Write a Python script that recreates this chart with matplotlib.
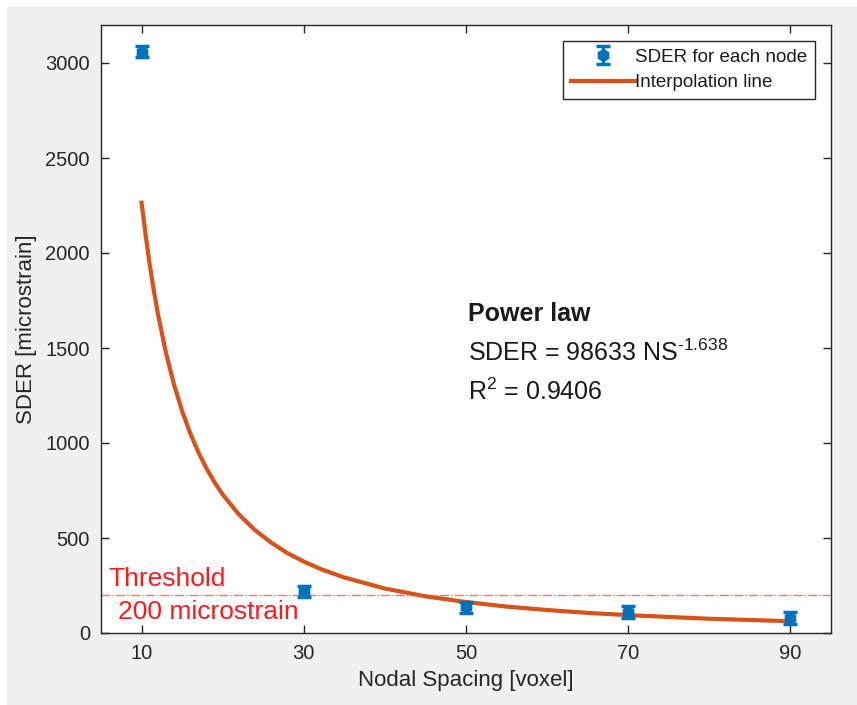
import matplotlib
matplotlib.use("Agg")
import matplotlib.pyplot as plt
from matplotlib.patches import Rectangle

plt.rcParams['font.family'] = ['Liberation Sans', 'DejaVu Sans']

# Measured SDER per node
nodal_spacing = [10, 30, 50, 70, 90]
sder = [3060, 220, 135, 110, 80]
sder_err = [30, 30, 30, 30, 30]

# Interpolation (power-law fit) line
fit_x = [10, 10.5, 11, 11.5, 12, 13, 14, 15, 16, 17, 18, 19, 20, 22, 24, 26, 28, 30, 32,
         35, 40, 45, 50, 55, 60, 65, 70, 80, 90]
fit_y = [2265, 2095, 1940, 1805, 1683, 1476, 1308, 1168, 1051, 952, 866, 793, 729, 624,
         541, 475, 420, 376, 338, 292, 234, 193, 163, 139, 121, 106, 94, 75, 62]

threshold = 200
x_ticks = [10, 30, 50, 70, 90]
y_ticks = [0, 500, 1000, 1500, 2000, 2500, 3000]

W, H = 857, 705
fig = plt.figure(figsize=(W / 100, H / 100), dpi=100)
fig.patch.set_facecolor('#f0f0f0')
# white screenshot margins (top and left)
fig.patches.append(Rectangle((0, 1 - 7 / H), 1, 7 / H, transform=fig.transFigure,
                             facecolor='white', edgecolor='none', zorder=0))
fig.patches.append(Rectangle((0, 0), 7 / W, 1, transform=fig.transFigure,
                             facecolor='white', edgecolor='none', zorder=0))

ax = fig.add_axes([101 / W, (H - 633) / H, 730 / W, 608 / H])
ax.set_facecolor('white')

dark = '#262626'
blue = '#0072BD'
orange = '#D95319'

eb = ax.errorbar(nodal_spacing, sder, yerr=sder_err, fmt='h', color=blue, markersize=8.5,
                 elinewidth=2.5, capsize=5, capthick=2.5, label='SDER for each node', zorder=3)
ln, = ax.plot(fit_x, fit_y, color=orange, linewidth=3, label='Interpolation line', zorder=2,
              solid_joinstyle='round')
ax.axhline(threshold, color='#ff7070', linestyle='-.', linewidth=1.0, zorder=1)

ax.set_xlim(5, 95)
ax.set_ylim(0, 3200)
ax.set_xticks(x_ticks)
ax.set_yticks(y_ticks)
ax.tick_params(direction='in', top=True, right=True, length=6, width=1,
               colors=dark, labelsize=14.5, pad=8)
for s in ax.spines.values():
    s.set_color(dark)
    s.set_linewidth(1)

ax.set_xlabel('Nodal Spacing [voxel]', fontsize=16, color=dark, labelpad=5)
ax.set_ylabel('SDER [microstrain]', fontsize=16, color=dark, labelpad=6)

txt = '#1a1a1a'
ax.text(50.2, 1642, 'Power law', fontsize=18, fontweight='bold', color=txt)
ax.text(50.2, 1432, 'SDER = 98633 NS$^{\\mathregular{\u2010 1.638}}$', fontsize=18, color=txt)
ax.text(50.2, 1226, r'R$^{\mathregular{2}}$ = 0.9406', fontsize=18, color=txt)

ax.text(5.95, 247, 'Threshold', fontsize=19, color='#ff1a1a')
ax.text(7.05, 74, '200 microstrain', fontsize=19, color='#ff1a1a')

leg = ax.legend([eb, ln], ['SDER for each node', 'Interpolation line'],
                loc='upper right', fontsize=13.5, frameon=True, fancybox=False,
                edgecolor=dark, framealpha=1, borderaxespad=0.85, handlelength=3.4,
                handletextpad=0.05, borderpad=0.4, labelspacing=0.45)
leg.get_frame().set_linewidth(1)
for t in leg.get_texts():
    t.set_color(txt)

fig.savefig('out.png', dpi=100, facecolor=fig.get_facecolor())
